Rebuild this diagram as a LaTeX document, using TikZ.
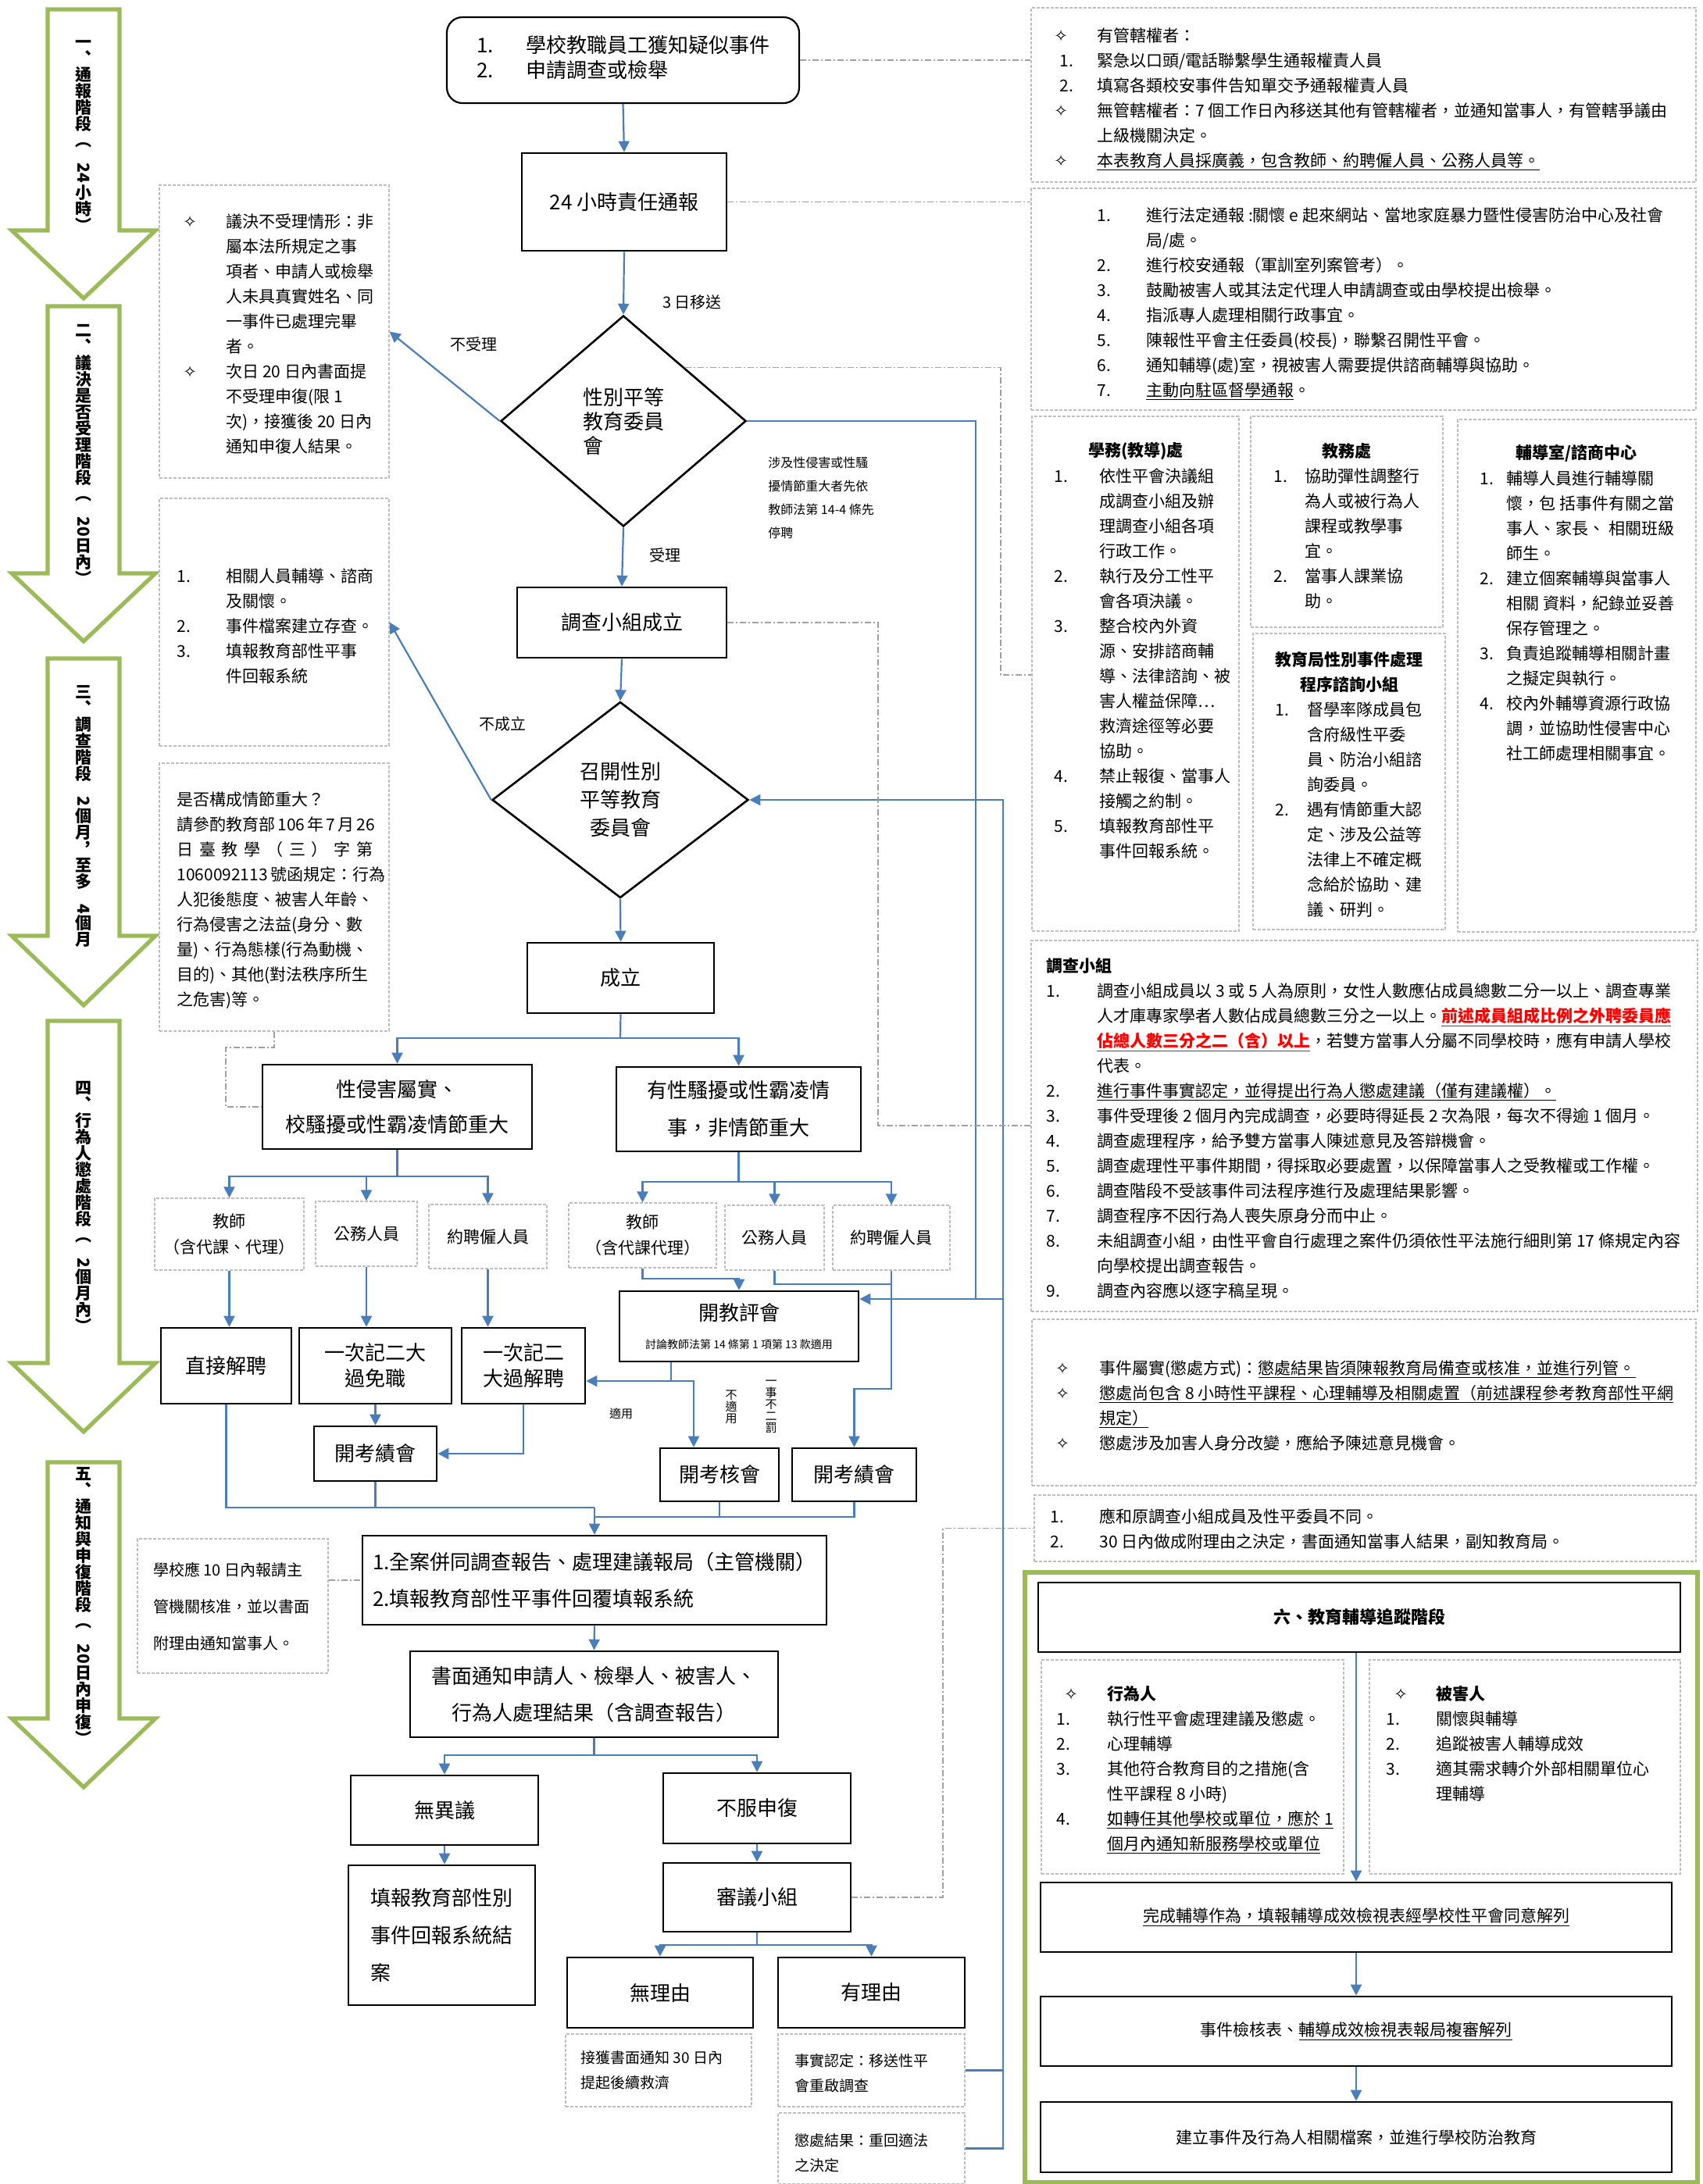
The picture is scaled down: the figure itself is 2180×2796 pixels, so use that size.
\documentclass[tikz,border=0pt]{standalone}
\usepackage{fontspec}
\usepackage{graphicx}
\setmainfont{Noto Sans CJK TC}
\newfontfamily\symfont{DejaVu Sans}
\usetikzlibrary{arrows.meta,shapes.geometric}
\definecolor{linkblue}{RGB}{74,126,187}
\definecolor{notegray}{RGB}{190,190,190}
\definecolor{guidegray}{RGB}{160,160,160}
\definecolor{stagegreen}{RGB}{155,187,89}
\newcommand{\dia}{{\symfont ✧}}
\newcommand{\redu}[1]{\textcolor{red}{\bfseries\underline{#1}}}
\newcommand{\notefont}{\fontsize{10.5}{16}\selectfont}

\begin{document}
\begin{tikzpicture}[x=0.5pt,y=-0.5pt,
  flowbox/.style={draw, line width=1.3pt, fill=white, inner sep=0pt, align=center, font=\fontsize{13}{23}\selectfont},
  rolebox/.style={draw=notegray, dash pattern=on 2pt off 1pt, line width=0.6pt, fill=white, inner sep=0pt, align=center, font=\fontsize{10.5}{16.5}\selectfont},
  notebox/.style={draw=notegray, dash pattern=on 2pt off 1pt, line width=0.6pt, fill=white, inner sep=0pt},
  notetext/.style={inner sep=0pt, anchor=base west, font=\notefont},
  notehead/.style={inner sep=0pt, align=center, font=\fontsize{10.5}{16}\selectfont\bfseries},
  edgelbl/.style={inner sep=0pt, font=\fontsize{10}{12}\selectfont},
  arrowline/.style={linkblue, line width=1.1pt, -{Triangle[length=7pt,width=7pt]}},
  plainline/.style={linkblue, line width=1.1pt},
  guideline/.style={guidegray, line width=0.6pt, dash pattern=on 4pt off 1.5pt on 1pt off 1.5pt},
  stagearrow/.style={draw=stagegreen, line width=2.6pt, fill=white, line join=miter},
  stagetext/.style={inner sep=0pt, align=center, font=\fontsize{10.5}{10.5}\selectfont\bfseries}]

\fill[white] (0,0) rectangle (2180,2796);
\useasboundingbox (0,0) rectangle (2180,2796);

% stage arrows
\foreach \t/\b/\p in {12/295/382, 392/734/821, 843/1198/1287, 1307/1745/1833, 1872/2200/2288}
  \draw[stagearrow] (61,\t) -- (153,\t) -- (153,\b) -- (199,\b) -- (107,\p) -- (15,\b) -- (61,\b) -- cycle;
\node[stagetext] (s1) at (107,174) {一\\︑\\通\\報\\階\\段\\︵\\\rotatebox{-90}{24}\\小\\時\\︶};
\node[stagetext] (s2) at (107,582) {二\\︑\\議\\決\\是\\否\\受\\理\\階\\段\\︵\\\rotatebox{-90}{20}\\日\\內\\︶};
\node[stagetext] (s3) at (107,1045) {三\\︑\\調\\查\\階\\段\\\rotatebox{-90}{2}\\個\\月\\︐\\至\\多\\\rotatebox{-90}{4}\\個\\月};
\node[stagetext] (s4) at (107,1545) {四\\︑\\行\\為\\人\\懲\\處\\階\\段\\︵\\\rotatebox{-90}{2}\\個\\月\\內\\︶};
\node[stagetext] (s5) at (107,2056) {五\\︑\\通\\知\\與\\申\\復\\階\\段\\︵\\\rotatebox{-90}{20}\\日\\內\\申\\復\\︶};

% main flow
\node[flowbox, rounded corners=10pt, line width=1.1pt, minimum width=225.5pt, minimum height=55pt, font=\fontsize{13}{15.5}\selectfont] (n_start) at (797.5,77)
  {\begin{tabular}{@{}p{31.5pt}@{}l@{}}1. & 學校教職員工獲知疑似事件\\ 2. & 申請調查或檢舉\end{tabular}};
\node[flowbox, minimum width=131pt, minimum height=62.5pt] (n_report) at (799,258.5) {24 小時責任通報};
\node[flowbox, shape=diamond, minimum width=157pt, minimum height=135pt, align=left, font=\fontsize{13}{15.5}\selectfont] (d_gec) at (798,539) {性別平等\\教育委員\\會};
\node[flowbox, minimum width=134pt, minimum height=45pt] (n_team) at (796,797) {調查小組成立};
\node[flowbox, shape=diamond, minimum width=164pt, minimum height=125.5pt, font=\fontsize{13}{18}\selectfont] (d_meet) at (794,1024) {召開性別\\平等教育\\委員會};
\node[flowbox, minimum width=119.5pt, minimum height=45pt] (n_est) at (794.5,1252) {成立};
\node[flowbox, minimum width=172.5pt, minimum height=54pt, font=\fontsize{13}{22.5}\selectfont] (n_severe) at (508.5,1417) {性侵害屬實、\\校騷擾或性霸凌情節重大};
\node[flowbox, minimum width=156.5pt, minimum height=54pt, font=\fontsize{13}{24}\selectfont] (n_minor) at (945.5,1420) {有性騷擾或性霸凌情\\事，非情節重大};

\node[rolebox, minimum width=95.5pt, minimum height=46pt] (r_teach1) at (293.5,1580) {教師\\（含代課、代理）};
\node[rolebox, minimum width=65pt, minimum height=41.5pt] (r_civil1) at (469,1579.5) {公務人員};
\node[rolebox, minimum width=75.5pt, minimum height=41pt] (r_contract1) at (624.5,1583) {約聘僱人員};
\node[rolebox, minimum width=94.5pt, minimum height=41.5pt] (r_teach2) at (822.5,1581.5) {教師\\（含代課代理）};
\node[rolebox, minimum width=63.5pt, minimum height=41.5pt] (r_civil2) at (991.5,1584.5) {公務人員};
\node[rolebox, minimum width=75pt, minimum height=41.5pt] (r_contract2) at (1141,1584.5) {約聘僱人員};

\node[flowbox, minimum width=83.5pt, minimum height=48.5pt] (p_fire) at (289.5,1748.5) {直接解聘};
\node[flowbox, minimum width=97.5pt, minimum height=48.5pt, font=\fontsize{13}{16.5}\selectfont] (p_dismiss) at (480.5,1748.5) {一次記二大\\過免職};
\node[flowbox, minimum width=79pt, minimum height=48.5pt, font=\fontsize{13}{16.5}\selectfont] (p_discharge) at (670,1748.5) {一次記二\\大過解聘};
\node[flowbox, minimum width=78.5pt, minimum height=35pt] (p_merit1) at (480.5,1861) {開考績會};
\node[flowbox, minimum width=153pt, minimum height=45pt, font=\fontsize{13}{18}\selectfont] (p_tec) at (946,1698)
  {開教評會\\{\fontsize{7}{8}\selectfont 討論教師法第 14 條第 1 項第 13 款適用}};
\node[flowbox, minimum width=76pt, minimum height=34pt] (p_review) at (921,1888) {開考核會};
\node[flowbox, minimum width=79.5pt, minimum height=34pt] (p_merit2) at (1093.5,1888) {開考績會};

\node[flowbox, minimum width=297pt, minimum height=57pt, align=left, font=\fontsize{13}{23.5}\selectfont] (n_submit) at (761,2023)
  {1.全案併同調查報告、處理建議報局（主管機關）\\2.填報教育部性平事件回覆填報系統};
\node[flowbox, minimum width=235.5pt, minimum height=55pt, font=\fontsize{13}{23.5}\selectfont] (n_notify) at (760.5,2169)
  {書面通知申請人、檢舉人、被害人、\\行為人處理結果（含調查報告）};
\node[flowbox, minimum width=120pt, minimum height=44.5pt] (n_agree) at (569,2317.5) {無異議};
\node[flowbox, minimum width=120pt, minimum height=45pt] (n_appeal) at (969,2315) {不服申復};
\node[flowbox, minimum width=119.5pt, minimum height=89.5pt, align=left, font=\fontsize{13}{24}\selectfont] (n_close) at (565.5,2477.5)
  {填報教育部性別\\事件回報系統結\\案};
\node[flowbox, minimum width=120pt, minimum height=44pt] (n_panel) at (969,2429) {審議小組};
\node[flowbox, minimum width=119pt, minimum height=45pt] (n_groundless) at (845,2551) {無理由};
\node[flowbox, minimum width=119.5pt, minimum height=45pt] (n_grounded) at (1115.5,2551) {有理由};

\node[notebox, minimum width=119pt, minimum height=46.5pt] (q_relief) at (843,2650.5) {};
\node[notetext, font=\fontsize{9.5}{16}\selectfont] (t_relief) at (743,2641) {\begin{tabular}[t]{@{}l@{}}接獲書面通知 30 日內\\提起後續救濟\end{tabular}};
\node[notebox, minimum width=119.5pt, minimum height=46.5pt] (q_fact) at (1115.5,2650.5) {};
\node[notetext, font=\fontsize{9.5}{16}\selectfont] (t_fact) at (1017,2645) {\begin{tabular}[t]{@{}l@{}}事實認定：移送性平\\會重啟調查\end{tabular}};
\node[notebox, minimum width=119.5pt, minimum height=45.5pt] (q_penal) at (1115.5,2750.5) {};
\node[notetext, font=\fontsize{9.5}{16}\selectfont] (t_penal) at (1017,2747) {\begin{tabular}[t]{@{}l@{}}懲處結果：重回適法\\之決定\end{tabular}};

% left notes
\node[notebox, minimum width=147pt, minimum height=187.5pt] (q_reject) at (351,424.5) {};
\node[notetext] (t_reject) at (234,291) {\begin{tabular}[t]{@{}p{27.5pt}@{}l@{}}
\dia & 議決不受理情形：非\\ & 屬本法所規定之事\\ & 項者、申請人或檢舉\\ & 人未具真實姓名、同\\ & 一事件已處理完畢\\ & 者。\\
\dia & 次日 20 日內書面提\\ & 不受理申復(限 1\\ & 次)，接獲後 20 日內\\ & 通知申復人結果。\end{tabular}};
\node[notebox, minimum width=147pt, minimum height=158.5pt] (q_care) at (351,796.5) {};
\node[notetext] (t_care) at (226,745) {\begin{tabular}[t]{@{}p{31.5pt}@{}l@{}}
1. & 相關人員輔導、諮商\\ & 及關懷。\\ 2. & 事件檔案建立存查。\\ 3. & 填報教育部性平事\\ & 件回報系統\end{tabular}};
\node[notebox, minimum width=147pt, minimum height=171.5pt] (q_serious) at (351,1148.5) {};
\node[notetext] (t_serious) at (226,1031) {\begin{tabular}[t]{@{}l@{}}
是否構成情節重大？\\
\makebox[125.5pt][s]{請參酌教育部 106 年 7 月 26}\\
\makebox[125.5pt][s]{日\hfill 臺\hfill 教\hfill 學\hfill （\hfill 三\hfill ）\hfill 字\hfill 第}\\
\makebox[125.5pt][s]{1060092113 號函規定：行為}\\
人犯後態度、被害人年齡、\\ 行為侵害之法益(身分、數\\ 量)、行為態樣(行為動機、\\ 目的)、其他(對法秩序所生\\ 之危害)等。\end{tabular}};
\node[notebox, minimum width=122pt, minimum height=86pt] (q_tenday) at (298,2056) {};
\node[notetext, font=\fontsize{10}{23.5}\selectfont] (t_tenday) at (196,2017) {\begin{tabular}[t]{@{}l@{}}
學校應 10 日內報請主\\ 管機關核准，並以書面\\ 附理由通知當事人。\end{tabular}};

% right notes
\node[notebox, minimum width=425.5pt, minimum height=111.5pt] (q_juris) at (1745.5,121.5) {};
\node[notetext] (t_juris) at (1349,53) {\begin{tabular}[t]{@{}p{27.5pt}@{}l@{}}
\dia & 有管轄權者：\\
\hspace{3.5pt}1. & 緊急以口頭/電話聯繫學生通報權責人員\\
\hspace{3.5pt}2. & 填寫各類校安事件告知單交予通報權責人員\\
\dia & 無管轄權者：7 個工作日內移送其他有管轄權者，並通知當事人，有管轄爭議由\\
 & 上級機關決定。\\
\dia & \underline{本表教育人員採廣義，包含教師、約聘僱人員、公務人員等。}\end{tabular}};
\node[notebox, minimum width=425.5pt, minimum height=142pt] (q_steps) at (1745.5,383) {};
\node[notetext] (t_steps) at (1404,283) {\begin{tabular}[t]{@{}p{31.5pt}@{}l@{}}
1. & 進行法定通報 :關懷 e 起來網站、當地家庭暴力暨性侵害防治中心及社會\\ & 局/處。\\
2. & 進行校安通報（軍訓室列案管考）。\\
3. & 鼓勵被害人或其法定代理人申請調查或由學校提出檢舉。\\
4. & 指派專人處理相關行政事宜。\\
5. & 陳報性平會主任委員(校長)，聯繫召開性平會。\\
6. & 通知輔導(處)室，視被害人需要提供諮商輔導與協助。\\
7. & \underline{主動向駐區督學通報}。\end{tabular}};

\node[notebox, minimum width=132.5pt, minimum height=329.5pt] (q_student) at (1453.5,862.5) {};
\node[notehead] (h_student) at (1454,578) {學務(教導)處};
\node[notetext] (t_student) at (1349,617) {\begin{tabular}[t]{@{}p{29pt}@{}l@{}}
1. & 依性平會決議組\\ & 成調查小組及辦\\ & 理調查小組各項\\ & 行政工作。\\
2. & 執行及分工性平\\ & 會各項決議。\\
3. & 整合校內外資\\ & 源、安排諮商輔\\ & 導、法律諮詢、被\\ & 害人權益保障…\\ & 救濟途徑等必要\\ & 協助。\\
4. & 禁止報復、當事人\\ & 接觸之約制。\\
5. & 填報教育部性平\\ & 事件回報系統。\end{tabular}};
\node[notebox, minimum width=123pt, minimum height=135pt] (q_academic) at (1724,668) {};
\node[notehead] (h_academic) at (1724,578) {教務處};
\node[notetext] (t_academic) at (1630,617) {\begin{tabular}[t]{@{}p{20pt}@{}l@{}}
1. & 協助彈性調整行\\ & 為人或被行為人\\ & 課程或教學事\\ & 宜。\\
2. & 當事人課業協\\ & 助。\end{tabular}};
\node[notebox, minimum width=123pt, minimum height=189.5pt] (q_bureau) at (1727,1000.5) {};
\node[notehead] (h_bureau) at (1727,860) {教育局性別事件處理\\程序諮詢小組};
\node[notetext] (t_bureau) at (1632,916) {\begin{tabular}[t]{@{}p{20.5pt}@{}l@{}}
1. & 督學率隊成員包\\ & 含府級性平委\\ & 員、防治小組諮\\ & 詢委員。\\
2. & 遇有情節重大認\\ & 定、涉及公益等\\ & 法律上不確定概\\ & 念給於協助、建\\ & 議、研判。\end{tabular}};
\node[notebox, minimum width=152.5pt, minimum height=328pt] (q_counsel) at (2018.5,865) {};
\node[notehead] (h_counsel) at (2018,580) {輔導室/諮商中心};
\node[notetext] (t_counsel) at (1894,620) {\begin{tabular}[t]{@{}p{17pt}@{}l@{}}
1. & 輔導人員進行輔導關\\ & 懷，包 括事件有關之當\\ & 事人、家長、 相關班級\\ & 師生。\\
2. & 建立個案輔導與當事人\\ & 相關 資料，紀錄並妥善\\ & 保存管理之。\\
3. & 負責追蹤輔導相關計畫\\ & 之擬定與執行。\\
4. & 校內外輔導資源行政協\\ & 調，並協助性侵害中心\\ & 社工師處理相關事宜。\end{tabular}};

\node[notebox, minimum width=426.5pt, minimum height=237.5pt] (q_invest) at (1746.5,1441.5) {};
\node[notetext] (t_invest) at (1339,1244) {\begin{tabular}[t]{@{}p{32.5pt}@{}l@{}}
\multicolumn{2}{@{}l@{}}{\bfseries 調查小組}\\
1. & 調查小組成員以 3 或 5 人為原則，女性人數應佔成員總數二分一以上、調查專業\\
 & 人才庫專家學者人數佔成員總數三分之一以上。\redu{前述成員組成比例之外聘委員應}\\
 & \redu{佔總人數三分之二（含）以上}，若雙方當事人分屬不同學校時，應有申請人學校\\
 & 代表。\\
2. & \underline{進行事件事實認定，並得提出行為人懲處建議（僅有建議權）。}\\
3. & 事件受理後 2 個月內完成調查，必要時得延長 2 次為限，每次不得逾 1 個月。\\
4. & 調查處理程序，給予雙方當事人陳述意見及答辯機會。\\
5. & 調查處理性平事件期間，得採取必要處置，以保障當事人之受教權或工作權。\\
6. & 調查階段不受該事件司法程序進行及處理結果影響。\\
7. & 調查程序不因行為人喪失原身分而中止。\\
8. & 未組調查小組，由性平會自行處理之案件仍須依性平法施行細則第 17 條規定內容\\
 & 向學校提出調查報告。\\
9. & 調查內容應以逐字稿呈現。\end{tabular}};
\node[notebox, minimum width=425pt, minimum height=106.5pt] (q_penalty) at (1746,1795.5) {};
\node[notetext] (t_penalty) at (1351,1759) {\begin{tabular}[t]{@{}p{28pt}@{}l@{}}
\dia & 事件屬實(懲處方式)：\underline{懲處結果皆須陳報教育局備查或核准，並進行列管。}\\
\dia & \underline{懲處尚包含 8 小時性平課程、心理輔導及相關處置（前述課程參考教育部性平網}\\
 & \underline{規定）}\\
\dia & 懲處涉及加害人身分改變，應給予陳述意見機會。\end{tabular}};
\node[notebox, minimum width=423.5pt, minimum height=42.5pt] (q_appeal) at (1747.5,1956.5) {};
\node[notetext] (t_appeal) at (1344,1949) {\begin{tabular}[t]{@{}p{31.5pt}@{}l@{}}
1. & 應和原調查小組成員及性平委員不同。\\
2. & 30 日內做成附理由之決定，書面通知當事人結果，副知教育局。\end{tabular}};

% stage six
\draw[stagegreen, line width=2.6pt] (1312,2013) rectangle (2173,2794);
\node[flowbox, minimum width=411pt, minimum height=44.5pt, font=\fontsize{11}{14}\selectfont\bfseries] (s_head) at (1740,2070.5) {六、教育輔導追蹤階段};
\node[notebox, minimum width=193.5pt, minimum height=137pt] (q_actor) at (1526.5,2262) {};
\node[notetext] (t_actor) at (1352,2176) {\begin{tabular}[t]{@{}p{32.5pt}@{}l@{}}
\hspace{5pt}\dia & \bfseries 行為人\\
1. & 執行性平會處理建議及懲處。\\
2. & 心理輔導\\
3. & 其他符合教育目的之措施(含\\ & 性平課程 8 小時)\\
4. & \underline{如轉任其他學校或單位，應於 1}\\ & \underline{個月內通知新服務學校或單位}\end{tabular}};
\node[notebox, minimum width=199pt, minimum height=137pt] (q_victim) at (1952,2262) {};
\node[notetext] (t_victim) at (1774,2176) {\begin{tabular}[t]{@{}p{32pt}@{}l@{}}
\hspace{5pt}\dia & \bfseries 被害人\\
1. & 關懷與輔導\\
2. & 追蹤被害人輔導成效\\
3. & 適其需求轉介外部相關單位心\\ & 理輔導\end{tabular}};
\node[flowbox, minimum width=404pt, minimum height=44.5pt, font=\notefont] (s_done) at (1736,2454.5) {\underline{完成輔導作為，填報輔導成效檢視表經學校性平會同意解列}};
\node[flowbox, minimum width=404pt, minimum height=44.5pt, font=\notefont] (s_check) at (1736,2600.5) {事件檢核表、\underline{輔導成效檢視表報局複審解列}};
\node[flowbox, minimum width=404pt, minimum height=45pt, font=\notefont] (s_file) at (1736,2736) {建立事件及行為人相關檔案，並進行學校防治教育};

% edge labels
\node[edgelbl] (l_send) at (886,387) {3 日移送};
\node[edgelbl] (l_accept) at (851,711) {受理};
\node[edgelbl] (l_reject) at (606,441) {不受理};
\node[edgelbl] (l_fail) at (643,927) {不成立};
\node[notetext, font=\fontsize{8}{15}\selectfont] (l_suspend) at (983,598) {\begin{tabular}[t]{@{}l@{}}涉及性侵害或性騷\\擾情節重大者先依\\教師法第 14-4 條先\\停聘\end{tabular}};
\node[edgelbl, font=\fontsize{7.5}{9}\selectfont] (l_apply) at (795,1810) {適用};
\node[edgelbl, align=center, font=\fontsize{7.5}{7.5}\selectfont] (l_notapply) at (936,1801) {不\\適\\用};
\node[edgelbl, align=center, font=\fontsize{7.5}{7.5}\selectfont] (l_double) at (987,1801) {一\\事\\不\\二\\罰};

% connectors
\draw[arrowline] (n_start.south) -- (n_report.north);
\draw[arrowline] (n_report.south) -- (d_gec.north);
\draw[arrowline] (d_gec.south) -- (n_team.north);
\draw[arrowline] (d_gec.west) -- (q_reject.east);
\draw[arrowline] (n_team.south) -- (d_meet.north);
\draw[arrowline] (d_meet.west) -- (q_care.east);
\draw[arrowline] (d_meet.south) -- (n_est.north);

\coordinate (j_est) at (794,1329);
\draw[plainline] (n_est.south) -- (j_est);
\draw[arrowline] (j_est) -| (n_severe.north);
\draw[arrowline] (j_est) -| (n_minor.north);
\coordinate (j_severe) at (508.5,1506);
\draw[plainline] (n_severe.south) -- (j_severe);
\foreach \role in {r_teach1,r_civil1,r_contract1}
  \draw[arrowline] (j_severe) -| (\role.north);
\coordinate (j_minor) at (945.5,1513);
\draw[plainline] (n_minor.south) -- (j_minor);
\foreach \role in {r_teach2,r_civil2,r_contract2}
  \draw[arrowline] (j_minor) -| (\role.north);

\draw[arrowline] (r_teach1.south) -- (r_teach1.south |- p_fire.north);
\draw[arrowline] (r_civil1.south) -- (r_civil1.south |- p_dismiss.north);
\draw[arrowline] (r_contract1.south) -- (r_contract1.south |- p_discharge.north);
\draw[arrowline] (p_dismiss.south) -- (p_merit1.north);
\draw[arrowline] (p_discharge.south) |- (p_merit1.east);

\draw[arrowline] (r_teach2.south) -- ++(0,13) -| (p_tec.north);
\coordinate (c_civil) at (1141,1644);
\draw[plainline] (r_civil2.south) |- (c_civil);
\coordinate (c_merit) at (1141,1778);
\draw[arrowline] (r_contract2.south) -- (c_merit) -| (p_merit2.north);
\coordinate (c_tec) at (859,1768);
\coordinate (c_rev) at (888,1768);
\draw[plainline] (c_tec |- p_tec.south) -- (c_tec);
\draw[arrowline] (c_tec) -- (c_tec -| p_discharge.east);
\draw[arrowline] (c_tec) -- (c_rev) -- (c_rev |- p_review.north);

\coordinate (c_stop) at (1249,1663);
\draw[arrowline] (d_gec.east) -| (c_stop) -- (c_stop -| p_tec.east);
\draw[plainline] (c_stop) -- ++(34,0);
\draw[plainline] (q_fact.east) -- ++(48,0);
\draw[arrowline] (q_penal.east) -- ++(48,0) |- (d_meet.east);

\coordinate (m_left) at (761,1930);
\coordinate (m_right) at (761,1942);
\draw[plainline] (p_fire.south) |- (m_left);
\draw[plainline] (p_merit1.south) -- (p_merit1.south |- m_left);
\draw[plainline] (p_review.south) |- (m_right);
\draw[plainline] (p_merit2.south) |- (m_right);
\draw[arrowline] (m_left) -- (n_submit.north);
\draw[arrowline] (n_submit.south) -- (n_notify.north);
\coordinate (j_notify) at (760.5,2247);
\draw[plainline] (n_notify.south) -- (j_notify);
\draw[arrowline] (j_notify) -| (n_agree.north);
\draw[arrowline] (j_notify) -| (n_appeal.north);
\draw[arrowline] (n_agree.south) -- (n_agree.south |- n_close.north);
\draw[arrowline] (n_appeal.south) -- (n_panel.north);
\coordinate (j_panel) at (969,2490);
\draw[plainline] (n_panel.south) -- (j_panel);
\draw[arrowline] (j_panel) -| (n_groundless.north);
\draw[arrowline] (j_panel) -| (n_grounded.north);

\draw[arrowline] (s_done.north |- s_head.south) -- (s_done.north);
\draw[arrowline] (s_done.south) -- (s_check.north);
\draw[arrowline] (s_check.south) -- (s_file.north);

% dash-dot guides
\draw[guideline] (n_start.east) -- (n_start.east -| q_juris.west);
\draw[guideline] (n_report.east) -- (n_report.east -| q_steps.west);
\coordinate (g_gec) at (1281,864);
\draw[guideline] (d_gec.north east) -| (g_gec) -- (g_gec -| q_student.west);
\coordinate (g_team) at (1124,1441);
\draw[guideline] (n_team.east) -| (g_team) -- (g_team -| q_invest.west);
\coordinate (g_serious) at (289,1341);
\draw[guideline] (q_serious.south) |- (g_serious) |- (n_severe.west);
\draw[guideline] (q_tenday.east |- n_submit.west) -- (n_submit.west);
\coordinate (g_panel) at (1207,1956.5);
\draw[guideline] (n_panel.east) -| (g_panel) -- (q_appeal.west);
\end{tikzpicture}
\end{document}
